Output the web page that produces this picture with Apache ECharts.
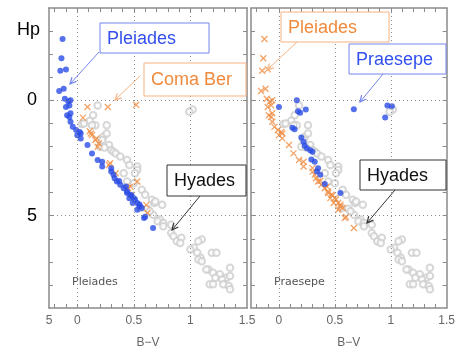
<!DOCTYPE html>
<html>
<head>
<meta charset="utf-8">
<script src="https://cdn.jsdelivr.net/npm/echarts@6/dist/echarts.min.js"></script>
<style>
  html, body { margin: 0; padding: 0; background: #fff; }
  #chart { width: 458px; height: 355px; }
</style>
</head>
<body>
<div id="chart"></div>
<script>
// [B-V, Hp]
const pleiades = [
  [-0.13,-2.66],[-0.14,-1.82],[-0.15,-1.28],[-0.10,-1.34],[-0.16,-0.40],[-0.12,-0.50],
  [-0.11,-0.07],[-0.08,0.05],[-0.06,0.00],[-0.10,0.29],[-0.07,0.22],[-0.06,0.56],
  [-0.09,0.65],[-0.07,0.72],[-0.06,0.93],[-0.04,1.15],[-0.01,1.29],[0.02,1.37],
  [0.03,1.44],[0.00,1.51],[0.03,1.65],[0.09,1.94],[0.13,2.30],[0.18,2.59],
  [0.22,2.66],[0.22,2.87],[0.30,2.94],[0.30,3.09],[0.32,3.23],[0.33,3.38],
  [0.35,3.52],[0.37,3.50],[0.38,3.66],[0.41,3.81],[0.43,3.74],[0.44,3.95],
  [0.44,4.02],[0.47,4.09],[0.48,4.12],[0.46,4.24],[0.50,4.24],[0.51,4.30],
  [0.49,4.45],[0.53,4.45],[0.55,4.52],[0.55,4.60],[0.57,4.67],[0.53,4.74],
  [0.59,5.10],[0.60,5.05],[0.67,5.53]
];
const comaBer = [
  [0.09,0.29],[0.27,0.29],[0.52,0.19],[0.05,0.75],[0.11,1.34],[0.13,1.51],
  [0.12,1.44],[0.17,1.65],[0.16,1.72],[0.19,1.87],[0.18,2.01],[0.29,2.73],
  [0.28,2.80],[0.34,3.16],[0.53,3.52],[0.47,3.74],[0.45,3.80],[0.48,4.09],
  [0.61,4.53],[0.62,4.88]
];
const praesepe = [
  [0.00,0.29],[0.16,0.00],[0.17,0.47],[0.19,0.54],[0.24,0.40],[0.67,0.39],
  [0.97,0.22],[1.01,0.26],[0.95,0.75],[0.12,1.19],[0.14,1.25],[0.20,1.61],
  [0.22,1.80],[0.23,1.97],[0.25,2.08],[0.28,2.16],[0.30,2.23],[0.29,2.56],
  [0.32,2.66],[0.35,2.94],[0.34,3.09],[0.37,3.23],[0.41,3.63],[0.55,4.02]
];
const hyades = [
  [1.02,0.40],[0.99,0.50],[0.18,0.22],[0.14,0.65],[0.11,0.89],[0.16,1.08],
  [0.26,1.08],[0.04,1.03],[0.06,1.00],[0.13,1.08],[0.23,1.58],[0.26,1.44],
  [0.22,1.72],[0.20,2.01],[0.28,1.94],[0.24,2.05],[0.30,2.15],[0.32,2.23],
  [0.34,2.30],[0.38,2.44],[0.44,2.59],[0.46,2.80],[0.53,2.87],[0.53,3.02],
  [0.51,3.16],[0.41,3.16],[0.44,3.52],[0.50,3.59],[0.57,3.88],[0.60,4.09],
  [0.66,4.31],[0.68,4.45],[0.69,4.38],[0.75,4.53],[0.56,4.67],[0.62,4.70],
  [0.67,4.96],[0.64,4.81],[0.73,5.17],[0.71,5.24],[0.76,5.32],[0.76,5.46],
  [0.83,5.39],[0.83,5.75],[0.85,5.89],[0.88,6.11],[0.92,5.96],[0.91,6.18],
  [1.10,6.03],[1.07,6.11],[1.03,6.39],[1.00,6.47],[1.06,6.61],[1.09,6.82],
  [1.07,6.90],[1.10,6.97],[1.19,6.61],[1.23,6.61],[1.16,7.33],[1.14,7.33],
  [1.20,7.47],[1.26,7.54],[1.22,7.69],[1.32,7.69],[1.35,7.26],[1.35,7.61],
  [1.17,7.97],[1.20,7.97],[1.28,7.76],[1.29,7.97],[1.34,8.05],[1.35,8.19]
];

// axes: ticks and labels
const xTicks = [-0.2,-0.1,0,0.1,0.2,0.3,0.4,0.5,0.6,0.7,0.8,0.9,1,1.1,1.2,1.3,1.4];
const xLabelsLeft = [-0.25, 0, 0.5, 1, 1.5];
const xLabelsRight = [0, 0.5, 1, 1.5];
const xLabelText = { '-0.25': '5', '0': '0', '0.5': '0.5', '1': '1', '1.5': '1.5' };
const yTicks = [-3,-2,-1,0,1,2,3,4,5,6,7,8];
const yLabels = [0, 5];
const xGrid = [0, 0.5, 1];
const yGrid = [0, 5];

const BLUE = '#2b4ce6', ORANGE = '#f08c40', GRAY = '#cdcdcd';
const AXIS = '#8a8a8a';

function xAxis(grid, pos, labels) {
  return {
    type: 'value', gridIndex: grid, position: pos, min: -0.25, max: 1.5,
    axisLine: { show: true, onZero: false, lineStyle: { color: AXIS, width: 1.5 } },
    axisTick: { show: true, inside: true, length: 4, customValues: xTicks, lineStyle: { color: AXIS } },
    axisLabel: labels ? {
      show: true, customValues: labels, margin: 7, color: '#666', fontSize: 12,
      fontFamily: 'Liberation Sans', formatter: v => xLabelText[String(v)]
    } : { show: false },
    splitLine: { show: false },
    name: pos === 'bottom' ? 'B\u2212V' : '', nameLocation: 'middle', nameGap: 29,
    nameTextStyle: { color: '#666', fontSize: 12, fontFamily: 'Liberation Sans' }
  };
}
function yAxis(grid, pos, labels) {
  return {
    type: 'value', gridIndex: grid, position: pos, min: -4, max: 9, inverse: true,
    axisLine: { show: true, onZero: false, lineStyle: { color: AXIS, width: 1.5 } },
    axisTick: { show: true, inside: true, length: 4, customValues: yTicks, lineStyle: { color: AXIS } },
    axisLabel: labels ? {
      show: true, customValues: labels, margin: 12, color: '#000', fontSize: 18,
      fontFamily: 'Liberation Sans'
    } : { show: false },
    splitLine: { show: false }
  };
}

const dotted = {
  silent: true, symbol: 'none', label: { show: false },
  lineStyle: { color: '#8a8a8a', type: [1, 3], width: 1 },
  emphasis: { disabled: true },
  data: xGrid.map(v => ({ xAxis: v })).concat(yGrid.map(v => ({ yAxis: v })))
};

const cross = 'path://M0,0L10,10M10,0L0,10';
function circles(xi, yi) {
  return { type: 'scatter', xAxisIndex: xi, yAxisIndex: yi, data: hyades,
    symbol: 'emptyCircle', symbolSize: 6.5,
    itemStyle: { color: GRAY, borderWidth: 0.9 }, markLine: dotted, z: 2 };
}
function crosses(xi, yi, data) {
  return { type: 'scatter', xAxisIndex: xi, yAxisIndex: yi, data: data,
    symbol: cross, symbolSize: 6,
    itemStyle: { color: 'none', borderColor: ORANGE, borderWidth: 1.3 }, z: 3 };
}
function dots(xi, yi, data) {
  return { type: 'scatter', xAxisIndex: xi, yAxisIndex: yi, data: data,
    symbol: 'circle', symbolSize: 6, itemStyle: { color: BLUE }, z: 4 };
}

// annotation boxes + arrows (pixel positions)
const notes = [
  { text: 'Pleiades', color: '#3350ee', stroke: '#7486ee', box: [100, 23, 109, 30], from: [99, 52], to: [70, 84] },
  { text: 'Coma Ber', color: '#f08a3c', stroke: '#f6b382', box: [144, 63, 102, 33], from: [140, 76], to: [115, 100] },
  { text: 'Hyades', color: '#111', stroke: '#333', box: [167, 165, 79, 31], from: [200, 196], to: [172, 230] },
  { text: 'Pleiades', color: '#f08a3c', stroke: '#f6b382', box: [281, 12, 108, 30], from: [297, 42], to: [267, 70] },
  { text: 'Praesepe', color: '#3350ee', stroke: '#7486ee', box: [349, 44, 97, 30], from: [383, 74], to: [360, 102] },
  { text: 'Hyades', color: '#111', stroke: '#333', box: [360, 160, 86, 30], from: [395, 190], to: [367, 223] }
];

const graphic = [];
notes.forEach(n => {
  const [bx, by, bw, bh] = n.box;
  graphic.push({ type: 'rect', shape: { x: bx, y: by, width: bw, height: bh },
    style: { fill: '#fff', stroke: n.stroke, lineWidth: 1 }, z: 100 });
  graphic.push({ type: 'text', x: bx + 7, y: by + bh / 2 + 1, z: 101,
    style: { text: n.text, fill: n.color, font: '18px "Liberation Sans"', verticalAlign: 'middle' } });
  const [x1, y1] = n.from, [x2, y2] = n.to;
  const a = Math.atan2(y2 - y1, x2 - x1), L = 7, w = 0.45;
  graphic.push({ type: 'line', shape: { x1, y1, x2, y2 },
    style: { stroke: n.stroke, lineWidth: 1 }, z: 100 });
  graphic.push({ type: 'polyline', z: 100, shape: { points: [
      [x2 - L * Math.cos(a - w), y2 - L * Math.sin(a - w)], [x2, y2],
      [x2 - L * Math.cos(a + w), y2 - L * Math.sin(a + w)] ] },
    style: { stroke: n.stroke, lineWidth: 1.2, fill: 'none' } });
});
graphic.push({ type: 'text', x: 17, y: 30, style: { text: 'Hp', fill: '#000', font: '18px "Liberation Sans"', verticalAlign: 'middle' } });
graphic.push({ type: 'text', x: 72, y: 282, style: { text: 'Pleiades', fill: '#555', font: '11px "DejaVu Sans"', verticalAlign: 'middle' } });
graphic.push({ type: 'text', x: 274, y: 282, style: { text: 'Praesepe', fill: '#555', font: '11px "DejaVu Sans"', verticalAlign: 'middle' } });

const chart = echarts.init(document.getElementById('chart'));
chart.setOption({
  animation: false,
  backgroundColor: '#fff',
  grid: [
    { left: 49, top: 8, width: 198, height: 300 },
    { left: 251, top: 8, width: 198, height: 300 }
  ],
  xAxis: [xAxis(0, 'bottom', xLabelsLeft), xAxis(0, 'top', null),
          xAxis(1, 'bottom', xLabelsRight), xAxis(1, 'top', null)],
  yAxis: [yAxis(0, 'left', yLabels), yAxis(0, 'right', null),
          yAxis(1, 'left', null), yAxis(1, 'right', null)],
  series: [
    circles(0, 0), crosses(0, 0, comaBer), dots(0, 0, pleiades),
    circles(2, 2), crosses(2, 2, pleiades), dots(2, 2, praesepe)
  ],
  graphic: graphic
});
</script>
</body>
</html>
